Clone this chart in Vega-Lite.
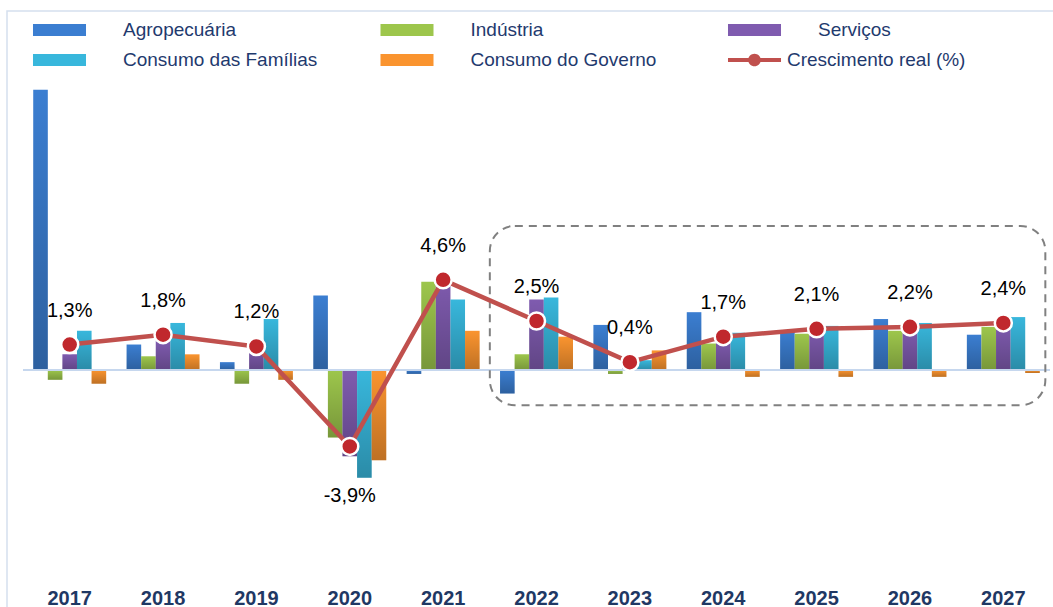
{
  "$schema": "https://vega.github.io/schema/vega-lite/v6.json",
  "width": 1050,
  "height": 620,
  "autosize": {"type": "none"},
  "padding": {"left": 7, "top": 11, "right": 0, "bottom": 0},
  "background": "white",
  "config": {"view": {"stroke": "#D5E0EE", "strokeWidth": 1.5}, "font": "Liberation Sans"},
  "datasets": {
    "bars": [
      {"year": "2017", "series": "Agropecuária", "value": 14.3},
      {"year": "2017", "series": "Indústria", "value": -0.5},
      {"year": "2017", "series": "Serviços", "value": 0.8},
      {"year": "2017", "series": "Consumo das Famílias", "value": 2.0},
      {"year": "2017", "series": "Consumo do Governo", "value": -0.7},
      {"year": "2018", "series": "Agropecuária", "value": 1.3},
      {"year": "2018", "series": "Indústria", "value": 0.7},
      {"year": "2018", "series": "Serviços", "value": 1.5},
      {"year": "2018", "series": "Consumo das Famílias", "value": 2.4},
      {"year": "2018", "series": "Consumo do Governo", "value": 0.8},
      {"year": "2019", "series": "Agropecuária", "value": 0.4},
      {"year": "2019", "series": "Indústria", "value": -0.7},
      {"year": "2019", "series": "Serviços", "value": 1.2},
      {"year": "2019", "series": "Consumo das Famílias", "value": 2.6},
      {"year": "2019", "series": "Consumo do Governo", "value": -0.5},
      {"year": "2020", "series": "Agropecuária", "value": 3.8},
      {"year": "2020", "series": "Indústria", "value": -3.45},
      {"year": "2020", "series": "Serviços", "value": -4.4},
      {"year": "2020", "series": "Consumo das Famílias", "value": -5.5},
      {"year": "2020", "series": "Consumo do Governo", "value": -4.6},
      {"year": "2021", "series": "Agropecuária", "value": -0.2},
      {"year": "2021", "series": "Indústria", "value": 4.5},
      {"year": "2021", "series": "Serviços", "value": 4.7},
      {"year": "2021", "series": "Consumo das Famílias", "value": 3.6},
      {"year": "2021", "series": "Consumo do Governo", "value": 2.0},
      {"year": "2022", "series": "Agropecuária", "value": -1.2},
      {"year": "2022", "series": "Indústria", "value": 0.8},
      {"year": "2022", "series": "Serviços", "value": 3.6},
      {"year": "2022", "series": "Consumo das Famílias", "value": 3.7},
      {"year": "2022", "series": "Consumo do Governo", "value": 1.7},
      {"year": "2023", "series": "Agropecuária", "value": 2.3},
      {"year": "2023", "series": "Indústria", "value": -0.2},
      {"year": "2023", "series": "Serviços", "value": 0.3},
      {"year": "2023", "series": "Consumo das Famílias", "value": 0.5},
      {"year": "2023", "series": "Consumo do Governo", "value": 1.0},
      {"year": "2024", "series": "Agropecuária", "value": 2.95},
      {"year": "2024", "series": "Indústria", "value": 1.35},
      {"year": "2024", "series": "Serviços", "value": 1.6},
      {"year": "2024", "series": "Consumo das Famílias", "value": 1.9},
      {"year": "2024", "series": "Consumo do Governo", "value": -0.35},
      {"year": "2025", "series": "Agropecuária", "value": 2.0},
      {"year": "2025", "series": "Indústria", "value": 1.85},
      {"year": "2025", "series": "Serviços", "value": 2.2},
      {"year": "2025", "series": "Consumo das Famílias", "value": 2.25},
      {"year": "2025", "series": "Consumo do Governo", "value": -0.35},
      {"year": "2026", "series": "Agropecuária", "value": 2.6},
      {"year": "2026", "series": "Indústria", "value": 2.0},
      {"year": "2026", "series": "Serviços", "value": 2.2},
      {"year": "2026", "series": "Consumo das Famílias", "value": 2.4},
      {"year": "2026", "series": "Consumo do Governo", "value": -0.35},
      {"year": "2027", "series": "Agropecuária", "value": 1.8},
      {"year": "2027", "series": "Indústria", "value": 2.2},
      {"year": "2027", "series": "Serviços", "value": 2.4},
      {"year": "2027", "series": "Consumo das Famílias", "value": 2.7},
      {"year": "2027", "series": "Consumo do Governo", "value": -0.15}
    ],
    "growth": [
      {"year": "2017", "growth": 1.3, "label": "1,3%"},
      {"year": "2018", "growth": 1.8, "label": "1,8%"},
      {"year": "2019", "growth": 1.2, "label": "1,2%"},
      {"year": "2020", "growth": -3.9, "label": "-3,9%"},
      {"year": "2021", "growth": 4.6, "label": "4,6%"},
      {"year": "2022", "growth": 2.5, "label": "2,5%"},
      {"year": "2023", "growth": 0.4, "label": "0,4%"},
      {"year": "2024", "growth": 1.7, "label": "1,7%"},
      {"year": "2025", "growth": 2.1, "label": "2,1%"},
      {"year": "2026", "growth": 2.2, "label": "2,2%"},
      {"year": "2027", "growth": 2.4, "label": "2,4%"}
    ],
    "box": [{"start": "2022", "end": "2027", "top": 7.35, "bottom": -1.8}],
    "zero": [{"start": "2017", "end": "2027", "v": 0}]
  },
  "layer": [
    {
      "data": {"name": "bars"},
      "mark": {"type": "bar"},
      "encoding": {
        "x": {
          "field": "year", "type": "nominal",
          "scale": {"paddingInner": 0, "paddingOuter": 0.1232, "align": 0.696},
          "axis": {"title": null, "domain": false, "ticks": false, "grid": false, "labelAngle": 0, "labelFontSize": 20, "labelFontWeight": "bold", "labelColor": "#1F3864", "labelPadding": 0, "labelBaseline": "middle", "offset": -33}
        },
        "xOffset": {
          "field": "series", "type": "nominal",
          "sort": ["Agropecuária", "Indústria", "Serviços", "Consumo das Famílias", "Consumo do Governo"],
          "scale": {"paddingInner": 0, "paddingOuter": 0.7}
        },
        "y": {
          "field": "value", "type": "quantitative",
          "scale": {"domain": [-13.32, 18.32], "nice": false, "zero": false},
          "axis": null
        },
        "color": {
          "field": "series", "type": "nominal",
          "scale": {
            "domain": ["Agropecuária", "Indústria", "Serviços", "Consumo das Famílias", "Consumo do Governo", "Crescimento real (%)"],
            "range": ["#3B7ED1", "#9DC64C", "#7F5BAF", "#38B7DC", "#FA942F", "#C0504D"]
          },
          "legend": {
            "orient": "none", "legendX": 37.5, "legendY": 4,
            "title": null, "columns": 3, "direction": "horizontal", "gridAlign": "all",
            "columnPadding": 62.5, "rowPadding": 5, "labelLimit": 400,
            "symbolSize": 900, "labelOffset": 48.5, "labelFontSize": 19, "labelColor": "#1F3A6E", "labelFont": "Liberation Sans",
            "symbolStrokeWidth": 0,
            "encode": {
              "symbols": {"update": {
                "shape": {"signal": "datum.value === 'Crescimento real (%)' ? 'M-1.767,-0.14H1.767V0.14H-1.767Z M0.42,0A0.42,0.42 0 1,1 -0.42,0A0.42,0.42 0 1,1 0.42,0Z' : 'M-1.767,-0.4H1.767V0.4H-1.767Z'"},
                "fill": {"scale": "color", "field": "value"},
                "stroke": {"value": "transparent"},
                "opacity": {"value": 1}
              }},
              "labels": {"update": {"dx": {"signal": "datum.label === 'Crescimento real (%)' ? -31 : 0"}}}
            }
          }
        }
      }
    },
    {
      "data": {"name": "bars"},
      "mark": {"type": "bar", "color": {"gradient": "linear", "x1": 0, "y1": 0, "x2": 0, "y2": 1, "stops": [{"offset": 0, "color": "rgba(0,0,0,0)"}, {"offset": 1, "color": "rgba(0,0,0,0.24)"}]}},
      "encoding": {
        "x": {"field": "year", "type": "nominal"},
        "xOffset": {"field": "series", "type": "nominal", "sort": ["Agropecuária", "Indústria", "Serviços", "Consumo das Famílias", "Consumo do Governo"]},
        "y": {"field": "value", "type": "quantitative"}
      }
    },
    {
      "data": {"name": "zero"},
      "mark": {"type": "rule", "color": "#C6D7EE", "strokeWidth": 2},
      "encoding": {
        "x": {"field": "start", "type": "nominal", "bandPosition": 0},
        "x2": {"field": "end", "bandPosition": 1},
        "y": {"field": "v", "type": "quantitative"}
      }
    },
    {
      "data": {"name": "box"},
      "mark": {"type": "rect", "fill": null, "fillOpacity": 0, "stroke": "#808080", "strokeWidth": 2, "strokeDash": [8, 6], "cornerRadius": 25},
      "encoding": {
        "x": {"field": "start", "type": "nominal", "bandPosition": 0},
        "x2": {"field": "end", "bandPosition": 0.95},
        "y": {"field": "top", "type": "quantitative"},
        "y2": {"field": "bottom"}
      }
    },
    {
      "data": {"name": "growth"},
      "mark": {"type": "line", "strokeWidth": 4.5},
      "encoding": {
        "x": {"field": "year", "type": "nominal"},
        "y": {"field": "growth", "type": "quantitative"},
        "color": {"datum": "Crescimento real (%)"}
      }
    },
    {
      "data": {"name": "growth"},
      "mark": {"type": "point", "filled": true, "fill": "#C0282D", "stroke": "white", "strokeWidth": 2.5, "size": 290, "opacity": 1},
      "encoding": {
        "x": {"field": "year", "type": "nominal"},
        "y": {"field": "growth", "type": "quantitative"}
      }
    },
    {
      "data": {"name": "growth"},
      "transform": [{"filter": "datum.growth >= 0"}],
      "mark": {"type": "text", "dy": -34, "fontSize": 20, "color": "black", "font": "Liberation Sans"},
      "encoding": {
        "x": {"field": "year", "type": "nominal"},
        "y": {"field": "growth", "type": "quantitative"},
        "text": {"field": "label"}
      }
    },
    {
      "data": {"name": "growth"},
      "transform": [{"filter": "datum.growth < 0"}],
      "mark": {"type": "text", "dy": 50, "fontSize": 20, "color": "black", "font": "Liberation Sans"},
      "encoding": {
        "x": {"field": "year", "type": "nominal"},
        "y": {"field": "growth", "type": "quantitative"},
        "text": {"field": "label"}
      }
    }
  ]
}
